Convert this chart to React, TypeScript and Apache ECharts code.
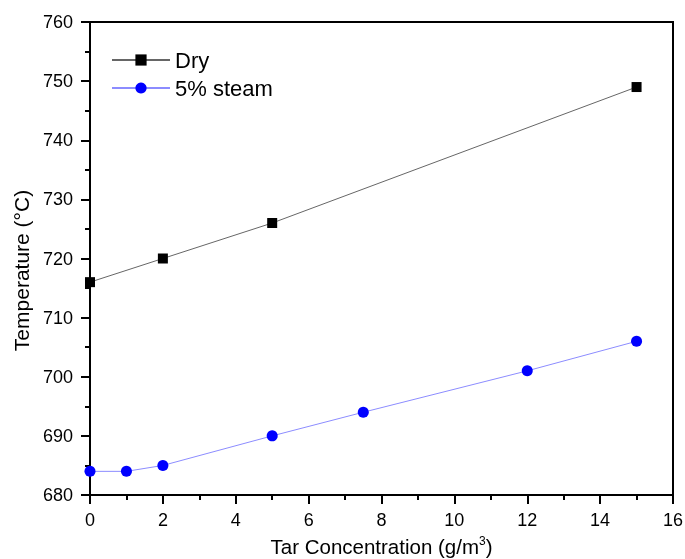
import React, { useEffect, useRef } from "react";
import * as echarts from "echarts";

const dryX = [0, 2, 5, 15];
const dryY = [716, 720, 726, 749];
const steamX = [0, 1, 2, 5, 7.5, 12, 15];
const steamY = [684, 684, 685, 690, 694, 701, 706];
const seriesNames = ["Dry", "5% steam"];

export default function App() {
  const ref = useRef<HTMLDivElement>(null);
  useEffect(() => {
    const chart = echarts.init(ref.current!, null, { renderer: "svg" });
    const font = "Liberation Sans, Arial, sans-serif";
    chart.setOption({
      animation: false,
      grid: { left: 90, right: 12, top: 22, bottom: 64, outerBoundsMode: "none", containLabel: false, show: true, borderColor: "#000", borderWidth: 2, backgroundColor: "transparent" },
      legend: {
        left: 106,
        top: 44,
        orient: "vertical",
        itemWidth: 58,
        itemHeight: 14,
        itemGap: 6,
        textStyle: { fontSize: 22, fontFamily: font, color: "#000" },
        data: seriesNames,
      },
      xAxis: {
        type: "value",
        min: 0,
        max: 16,
        interval: 2,
        name: "Tar Concentration (g/m{sup|3})",
        nameLocation: "middle",
        nameGap: 40,
        nameTextStyle: { fontSize: 20.5, fontFamily: font, color: "#000", rich: { sup: { fontSize: 12, verticalAlign: "top", padding: [0, 0, 10, 0], fontFamily: font } } },
        axisLine: { lineStyle: { color: "#000", width: 2 } },
        axisTick: { length: 9, lineStyle: { color: "#000", width: 2 } },
        minorTick: { show: true, splitNumber: 2, length: 5, lineStyle: { color: "#000", width: 2 } },
        axisLabel: { fontSize: 18, fontFamily: font, color: "#000", margin: 16 },
        splitLine: { show: false },
      },
      yAxis: {
        type: "value",
        min: 680,
        max: 760,
        interval: 10,
        name: "Temperature (°C)",
        nameLocation: "middle",
        nameGap: 57,
        nameTextStyle: { fontSize: 21, fontFamily: font, color: "#000", padding: [0, 24, 0, 0] },
        axisLine: { show: true, lineStyle: { color: "#000", width: 2 } },
        axisTick: { show: true, length: 9, lineStyle: { color: "#000", width: 2 } },
        minorTick: { show: true, splitNumber: 2, length: 5, lineStyle: { color: "#000", width: 2 } },
        axisLabel: { fontSize: 18, fontFamily: font, color: "#000", margin: 17 },
        splitLine: { show: false },
      },
      series: [
        {
          name: seriesNames[0],
          type: "line",
          data: dryX.map((x, i) => [x, dryY[i]]),
          symbol: "rect",
          symbolSize: 10,
          itemStyle: { color: "#000" },
          lineStyle: { color: "#666", width: 1 },
        },
        {
          name: seriesNames[1],
          type: "line",
          data: steamX.map((x, i) => [x, steamY[i]]),
          symbol: "circle",
          symbolSize: 11,
          itemStyle: { color: "#0000ff" },
          lineStyle: { color: "#8c8cff", width: 1 },
        },
      ],
    });
    return () => chart.dispose();
  }, []);
  return <div ref={ref} style={{ position: "fixed", left: 0, top: 0, width: 685, height: 559 }} />;
}
